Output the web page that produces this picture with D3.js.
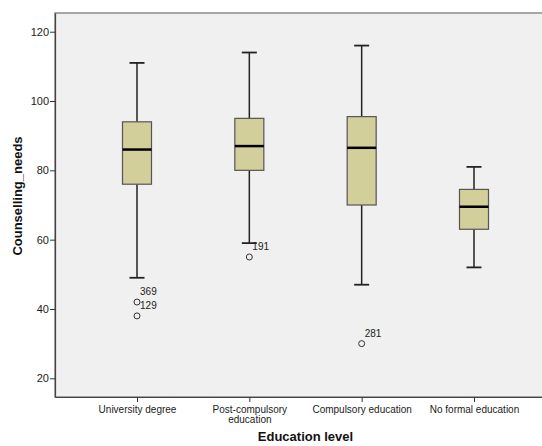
<!DOCTYPE html>
<html>
<head>
<meta charset="utf-8">
<script src="https://cdn.jsdelivr.net/npm/d3@7/dist/d3.min.js"></script>
<style>
  html, body { margin: 0; padding: 0; background: #fff; }
  svg { display: block; font-family: Arial, "Liberation Sans", sans-serif; }
</style>
</head>
<body>
<svg id="chart" width="542" height="446"></svg>
<script>
// Education level categories and their axis label lines
const categories = ["University degree", "Post-compulsory education", "Compulsory education", "No formal education"];
const categoryLabelLines = [["University degree"], ["Post-compulsory", "education"], ["Compulsory education"], ["No formal education"]];

// Five-number summaries of Counselling_needs per category
const whiskerLow = [49, 59, 47, 52];
const q1 = [76, 80, 70, 63];
const median = [86, 87, 86.5, 69.5];
const q3 = [94, 95, 95.5, 74.5];
const whiskerHigh = [111, 114, 116, 81];

// Outliers with their case numbers
const outlierCategory = ["University degree", "University degree", "Post-compulsory education", "Compulsory education"];
const outlierValue = [42, 38, 55, 30];
const outlierCase = ["369", "129", "191", "281"];

const yTicks = [20, 40, 60, 80, 100, 120];

const svg = d3.select("#chart");
const plot = { left: 55, top: 13, right: 556, bottom: 397 };

const x = d3.scalePoint().domain(categories).range([plot.left, plot.right]).padding(0.73);
const y = d3.scaleLinear().domain([14.6, 125.4]).range([plot.bottom, plot.top]);

// plot background and frame
svg.append("rect")
  .attr("x", plot.left).attr("y", plot.top)
  .attr("width", plot.right - plot.left).attr("height", plot.bottom - plot.top)
  .attr("fill", "#f0f0f0").attr("stroke", "#8a8a8a").attr("stroke-width", 1.5);

// Y axis
const yAxis = svg.append("g")
  .attr("transform", `translate(${plot.left},0)`)
  .call(d3.axisLeft(y).tickValues(yTicks).tickSize(5).tickPadding(1).tickSizeOuter(0));
yAxis.select(".domain").attr("stroke", "#444").attr("stroke-width", 1.2);
yAxis.selectAll(".tick line").attr("stroke", "#333");
yAxis.selectAll(".tick text").attr("fill", "#222").attr("font-size", 11).attr("font-family", "Arial, 'Liberation Sans', sans-serif");

// X axis
const xAxis = svg.append("g")
  .attr("transform", `translate(0,${plot.bottom})`)
  .call(d3.axisBottom(x).tickSize(5).tickSizeOuter(0).tickFormat(""));
xAxis.select(".domain").attr("stroke", "#444").attr("stroke-width", 1.2);
xAxis.selectAll(".tick line").attr("stroke", "#333");
xAxis.selectAll(".tick").each(function(d, i) {
  const t = d3.select(this).append("text")
    .attr("fill", "#222").attr("font-size", 10).attr("text-anchor", "middle")
    .attr("y", 16);
  categoryLabelLines[i].forEach((line, j) => {
    t.append("tspan").attr("x", 0).attr("dy", j === 0 ? 0 : 9.5).text(line);
  });
});

// Axis titles
svg.append("text")
  .attr("x", (plot.left + plot.right) / 2).attr("y", 441)
  .attr("text-anchor", "middle").attr("font-size", 13).attr("font-weight", "bold").attr("fill", "#111")
  .text("Education level");
svg.append("text")
  .attr("transform", `translate(22,196) rotate(-90)`)
  .attr("text-anchor", "middle").attr("font-size", 13).attr("font-weight", "bold").attr("fill", "#111")
  .text("Counselling_needs");

// Boxplots
const boxW = 29, capW = 15;
const boxes = svg.append("g").selectAll("g")
  .data(categories.map((c, i) => ({ c, lo: whiskerLow[i], q1: q1[i], med: median[i], q3: q3[i], hi: whiskerHigh[i] })))
  .join("g")
  .attr("transform", d => `translate(${x(d.c)},0)`);

boxes.append("line")
  .attr("x1", 0).attr("x2", 0).attr("y1", d => y(d.hi)).attr("y2", d => y(d.q3))
  .attr("stroke", "#222").attr("stroke-width", 1.5);
boxes.append("line")
  .attr("x1", 0).attr("x2", 0).attr("y1", d => y(d.q1)).attr("y2", d => y(d.lo))
  .attr("stroke", "#222").attr("stroke-width", 1.5);
boxes.append("line")
  .attr("x1", -capW / 2).attr("x2", capW / 2).attr("y1", d => y(d.hi)).attr("y2", d => y(d.hi))
  .attr("stroke", "#222").attr("stroke-width", 1.8);
boxes.append("line")
  .attr("x1", -capW / 2).attr("x2", capW / 2).attr("y1", d => y(d.lo)).attr("y2", d => y(d.lo))
  .attr("stroke", "#222").attr("stroke-width", 1.8);
boxes.append("rect")
  .attr("x", -boxW / 2).attr("width", boxW)
  .attr("y", d => y(d.q3)).attr("height", d => y(d.q1) - y(d.q3))
  .attr("fill", "#d3cf9b").attr("stroke", "#555").attr("stroke-width", 1.2);
boxes.append("line")
  .attr("x1", -boxW / 2).attr("x2", boxW / 2).attr("y1", d => y(d.med)).attr("y2", d => y(d.med))
  .attr("stroke", "#000").attr("stroke-width", 2.5);

// Outliers and their case labels
const outs = svg.append("g").selectAll("g")
  .data(outlierValue.map((v, i) => ({ c: outlierCategory[i], v, label: outlierCase[i] })))
  .join("g")
  .attr("transform", d => `translate(${x(d.c)},${y(d.v)})`);
outs.append("circle").attr("r", 3).attr("fill", "none").attr("stroke", "#333").attr("stroke-width", 1);
outs.append("text").attr("x", 3).attr("y", -7).attr("font-size", 10).attr("fill", "#222").text(d => d.label);
</script>
</body>
</html>
